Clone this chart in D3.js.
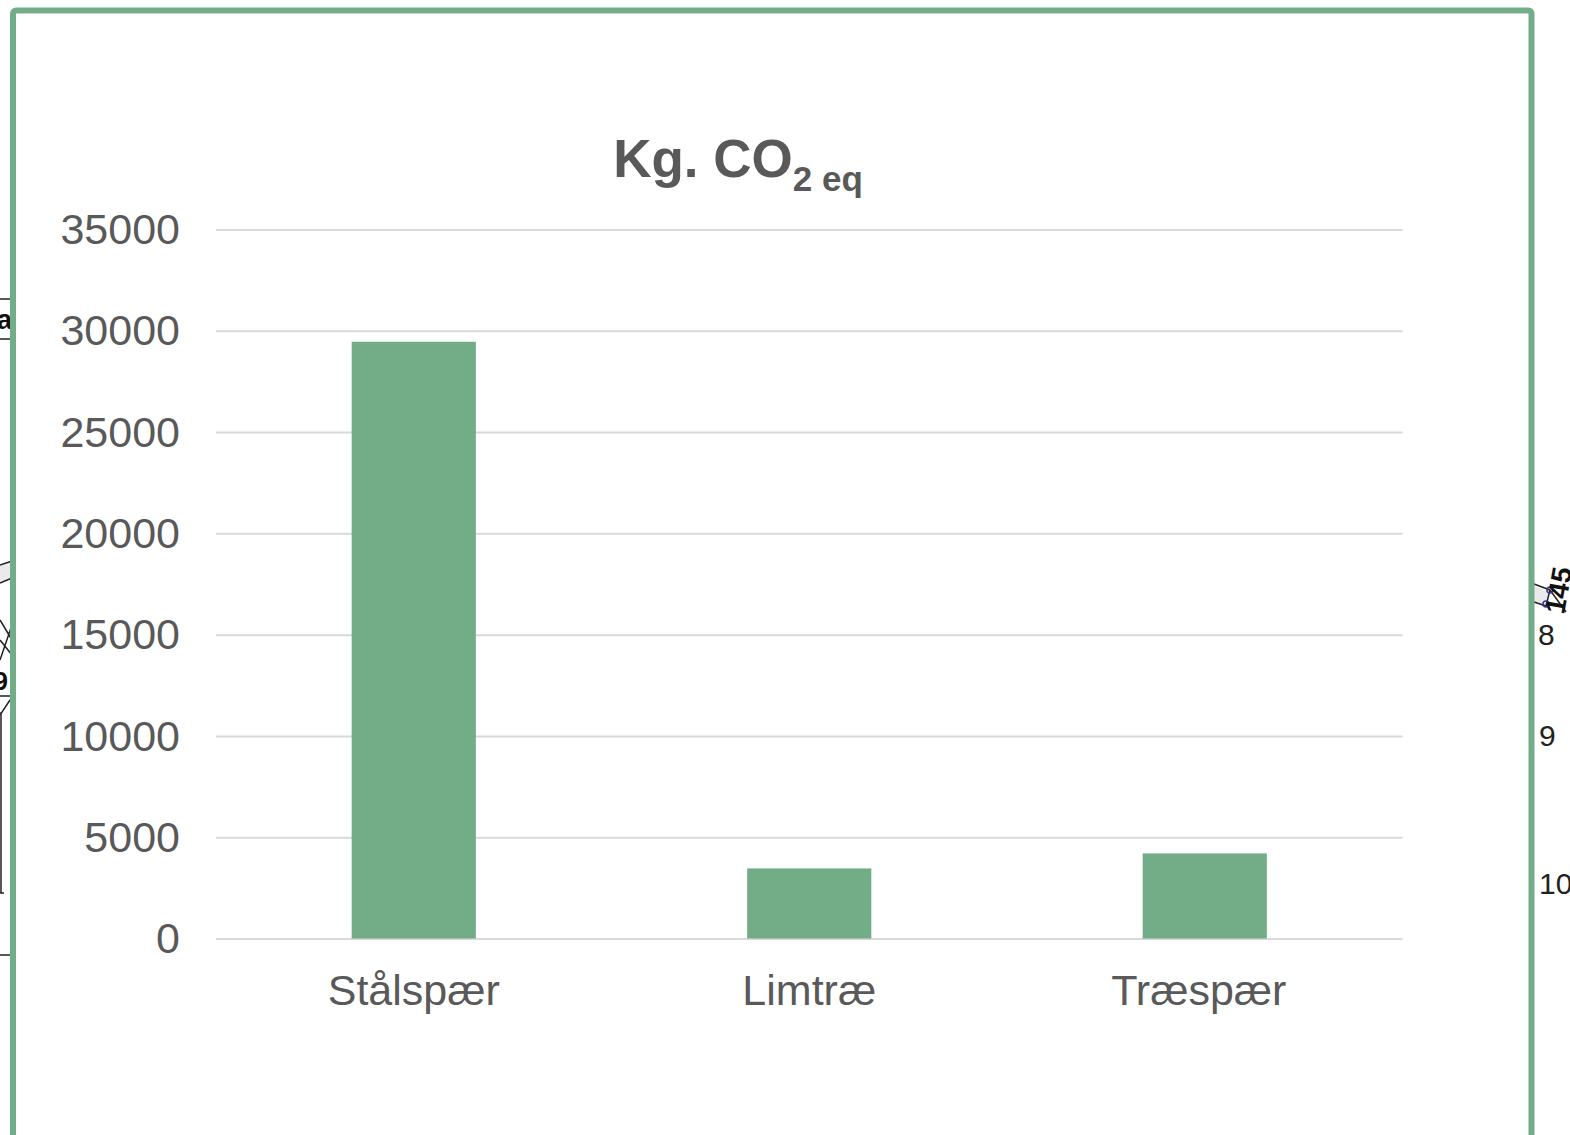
<!DOCTYPE html>
<html>
<head>
<meta charset="utf-8">
<script src="https://cdn.jsdelivr.net/npm/d3@7"></script>
<style>
html, body { margin: 0; padding: 0; background: #fff; }
svg { display: block; }
text { font-family: "Liberation Sans", Arial, sans-serif; }
</style>
</head>
<body>
<div id="main"></div>
<script>
var categories = ["Stålspær", "Limtræ", "Træspær"];
var values = [29460, 3460, 4200];
var yTicks = [0, 5000, 10000, 15000, 20000, 25000, 30000, 35000];

var W = 1570, H = 1135;
var margin = { top: 229.5, right: 169, bottom: 196.5, left: 216 };
var width = W - margin.left - margin.right + 1.5;
var height = H - margin.top - margin.bottom;
var green = "#72ad88", grey = "#595959";

var root = d3.select("#main").append("svg")
  .attr("width", W)
  .attr("height", H);

// bits of the slide showing behind the chart box
var behind = root.append("g").attr("class", "behind");
behind.append("path")
  .attr("d", "M0 565L12 561L12 578L0 583Z M1534 586L1550 592L1546 606L1534 603Z")
  .attr("fill", "#eaeaea");
behind.append("path")
  .attr("d", "M0 299H12M0 339H12M0 955H12M0 893H4M1 712V893M0 696H12M0 583L12 578M0 565L12 561M0 620L12 640M0 640L12 655M0 660L12 625M0 715L10 700M1534 584L1550 590M1534 602L1546 606M1550 590L1546 606M1550 590L1566 612")
  .attr("fill", "none").attr("stroke", "#222").attr("stroke-width", 1.5);
behind.selectAll("circle").data([[1550, 590], [1546, 604]]).enter().append("circle")
  .attr("cx", d => d[0]).attr("cy", d => d[1]).attr("r", 3)
  .attr("fill", "none").attr("stroke", "#33339a").attr("stroke-width", 1.5);
behind.append("text").attr("x", 12).attr("y", 329).attr("text-anchor", "end")
  .attr("font-size", 27).attr("font-weight", "bold").attr("fill", "#111").text("pa");
behind.append("text").attr("x", 8).attr("y", 690).attr("text-anchor", "end")
  .attr("font-size", 26).attr("font-weight", "bold").attr("fill", "#111").text("9");
[["8", 1538, 645], ["9", 1539, 746], ["10", 1539, 894]].forEach(function(d) {
  behind.append("text").attr("x", d[1]).attr("y", d[2])
    .attr("font-size", 30).attr("fill", "#222").text(d[0]);
});
behind.append("text")
  .attr("transform", "translate(1564,615) rotate(-80)")
  .attr("font-size", 28).attr("font-weight", "bold").attr("fill", "#111").text("145");

// chart box
root.append("rect")
  .attr("x", 13).attr("y", 10.5)
  .attr("width", 1518.5).attr("height", 1160)
  .attr("rx", 3)
  .attr("fill", "#fff")
  .attr("stroke", green)
  .attr("stroke-width", 6);

var svg = root.append("g")
  .attr("transform", "translate(" + margin.left + "," + margin.top + ")");

var x = d3.scaleBand()
  .domain(categories)
  .range([0, width])
  .paddingInner(0.686)
  .paddingOuter(0.343);

var y = d3.scaleLinear()
  .domain([0, 35000])
  .range([height, 0]);

// gridlines + y labels
var yAxis = svg.append("g")
  .call(d3.axisLeft(y).tickValues(yTicks).tickFormat(d3.format("d")).tickSize(-width).tickPadding(36));
yAxis.select(".domain").remove();
yAxis.selectAll(".tick line").attr("stroke", "#d9d9d9").attr("stroke-width", 2);
yAxis.selectAll(".tick text")
  .attr("fill", grey)
  .attr("font-size", 43)
  .attr("font-family", "Liberation Sans")
  .attr("dy", "0.33em");

svg.selectAll(".bar")
  .data(values)
  .enter()
  .append("rect")
  .attr("class", "bar")
  .attr("x", (d, i) => x(categories[i]))
  .attr("y", d => y(d))
  .attr("width", x.bandwidth())
  .attr("height", d => height - y(d))
  .attr("fill", green);

var xAxis = svg.append("g")
  .attr("transform", "translate(0," + height + ")")
  .call(d3.axisBottom(x).tickSize(0).tickPadding(36));
xAxis.select(".domain").remove();
xAxis.selectAll(".tick text")
  .attr("fill", grey)
  .attr("font-size", 43)
  .attr("font-family", "Liberation Sans")
  .attr("dx", (d, i) => i == 2 ? -6 : 0);

// title with subscript
var title = root.append("text")
  .attr("x", 738)
  .attr("y", 177)
  .attr("text-anchor", "middle")
  .attr("fill", grey)
  .attr("font-weight", "bold")
  .attr("font-size", 53);
title.append("tspan").text("Kg. CO");
title.append("tspan").attr("font-size", 35).attr("dy", 14).text("2 eq");
</script>
</body>
</html>
